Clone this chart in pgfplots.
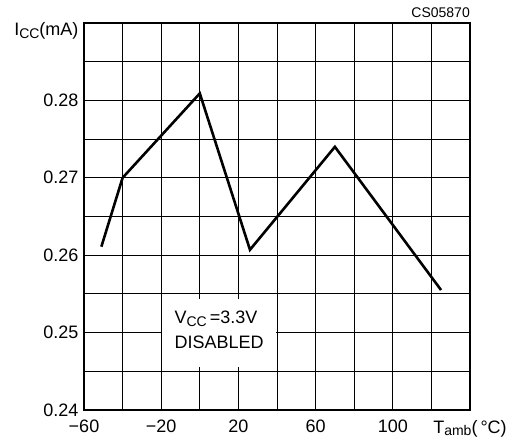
\documentclass[border=0pt]{standalone}
\usepackage{fontspec}
\setmainfont{Liberation Sans}
\usepackage{pgfplots}
\pgfplotsset{compat=1.18}
\newcommand{\sub}[1]{\raisebox{-0.3ex}{\fontsize{14}{14}\selectfont #1}}

\begin{document}
\begin{tikzpicture}
\begin{axis}[
    scale only axis,
    clip=false,
    width=386pt, height=387pt,
    xmin=-60, xmax=140, ymin=0.24, ymax=0.29,
    xtick={-60,-40,...,140},
    xticklabels={−60,,−20,,20,,60,,100,,{T\sub{amb}(\,°C)}},
    ytick={0.24,0.245,0.25,0.255,0.26,0.265,0.27,0.275,0.28,0.285,0.29},
    yticklabels={0.24,,0.25,,0.26,,0.27,,0.28,,},
    grid=major,
    major grid style={black, line width=0.9pt},
    axis line style={line width=1.4pt},
    major tick length=0pt,
    tick label style={font=\fontsize{18}{21}\selectfont},
    xticklabel style={yshift=-6.5pt},
    yticklabel style={xshift=-2pt},
]
% white box behind the condition text
\fill[white] (axis cs:-19.6,0.2456) rectangle (axis cs:39.6,0.2544);
\node[align=left, font=\fontsize{18}{25}\selectfont] at (axis cs:10,0.2503)
    {V\sub{CC}\,=3.3V\\DISABLED};

\addplot[black, line width=2.6pt, line join=miter] coordinates {
    (-51,0.2611) (-40,0.2700) (0,0.2809) (26,0.2607) (70,0.2740) (125,0.2555)
};

\node[anchor=east, font=\fontsize{18}{21}\selectfont]
    at ([xshift=-2pt,yshift=-8pt]rel axis cs:0,1) {I\sub{CC}(mA)};
\node[anchor=south east, font=\fontsize{14}{16}\selectfont, inner sep=0pt]
    at ([yshift=5pt]rel axis cs:1,1) {CS05870};

\coordinate (sw) at (rel axis cs:0,0);
\coordinate (ne) at (rel axis cs:1,1);
\end{axis}
\pgfresetboundingbox
\path ([shift={(-84pt,-29pt)}]sw) rectangle ([shift={(39pt,23pt)}]ne);
\end{tikzpicture}
\end{document}
